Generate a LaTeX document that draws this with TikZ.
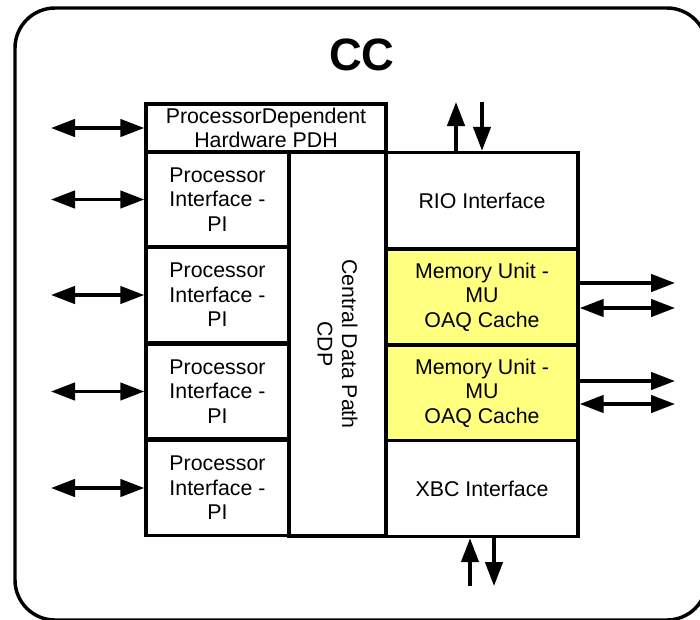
\documentclass[tikz,border=0pt]{standalone}
\usepackage{fontspec}
\setmainfont{Liberation Sans}
\usetikzlibrary{arrows.meta}
\definecolor{muyellow}{HTML}{FFFF80}
\tikzset{
  box/.style={draw=black, line width=2.6pt, fill=white, align=center, inner sep=0pt,
    font=\fontsize{16}{18.4}\selectfont},
  pibox/.style={box, minimum width=107.25pt, minimum height=71.5pt},
  rbox/.style={box, minimum width=144pt, minimum height=72pt},
  tip/.style={Triangle[length=18pt,width=13pt]},
  conn/.style={line width=2.6pt, -{Triangle[length=18pt,width=13pt]}},
  dconn/.style={line width=2.6pt, {Triangle[length=18pt,width=13pt]}-{Triangle[length=18pt,width=13pt]}},
}
\begin{document}
\begin{tikzpicture}[x=0.75pt,y=-0.75pt]
\useasboundingbox (0,0) rectangle (700,619);
\draw[line width=2.6pt, rounded corners=30pt] (15,8) rectangle (707,620);
\node[font=\fontsize{34}{40}\selectfont\bfseries, anchor=base] (cc) at (362,70) {CC};

% left column
\node[box, minimum width=180pt, minimum height=36pt] (pdh) at (266,128) {ProcessorDependent\\Hardware PDH};
\node[pibox] (pi1) at (217.5,199.5) {Processor\\Interface -\\PI};
\node[pibox] (pi2) at (217.5,295) {Processor\\Interface -\\PI};
\node[pibox] (pi3) at (217.5,391.5) {Processor\\Interface -\\PI};
\node[pibox] (pi4) at (217.5,488) {Processor\\Interface -\\PI};
\node[box, minimum width=72.75pt, minimum height=288pt] (cdp) at (337.5,344) {};
\node[rotate=-90, align=center, font=\fontsize{16}{18.4}\selectfont] (cdptext) at (cdp.center) {Central Data Path\\CDP};

% right column
\node[rbox] (rio) at (482,200.5) {RIO Interface};
\node[rbox, fill=muyellow] (mu1) at (482,297) {Memory Unit -\\MU\\OAQ Cache};
\node[rbox, fill=muyellow] (mu2) at (482,393) {Memory Unit -\\MU\\OAQ Cache};
\node[rbox] (xbc) at (482,488.5) {XBC Interface};

% free ends
\coordinate (l0) at (51,128);
\coordinate (l1) at (51,199.5);
\coordinate (l2) at (51,295);
\coordinate (l3) at (51,391.5);
\coordinate (l4) at (51,488);
\coordinate (tu) at (456,102);
\coordinate (td) at (482,102);
\coordinate (bu) at (470,586);
\coordinate (bd) at (494,586);
\coordinate (r1a) at (675,283);
\coordinate (r1b) at (675,308);
\coordinate (r2a) at (675,381);
\coordinate (r2b) at (675,404);

% left arrows
\draw[dconn] (l0) -- (pdh.west);
\draw[dconn] (l1) -- (pi1.west);
\draw[dconn] (l2) -- (pi2.west);
\draw[dconn] (l3) -- (pi3.west);
\draw[dconn] (l4) -- (pi4.west);

% top arrows
\draw[conn] (tu |- rio.north) -- (tu);
\draw[conn] (td) -- (td |- rio.north);

% bottom arrows
\draw[conn] (bu) -- (bu |- xbc.south);
\draw[conn] (bd |- xbc.south) -- (bd);

% right arrows
\draw[conn] (r1a -| mu1.east) -- (r1a);
\draw[dconn] (r1b -| mu1.east) -- (r1b);
\draw[conn] (r2a -| mu2.east) -- (r2a);
\draw[dconn] (r2b -| mu2.east) -- (r2b);
\end{tikzpicture}
\end{document}
